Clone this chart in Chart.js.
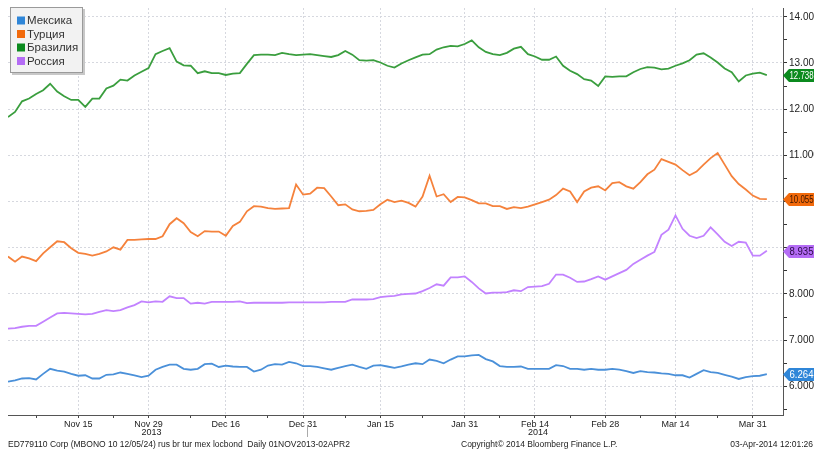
<!DOCTYPE html>
<html>
<head>
<meta charset="utf-8">
<script src="https://cdn.jsdelivr.net/npm/chart.js@4.4.1/dist/chart.umd.min.js"></script>
<style>
  html, body { margin: 0; padding: 0; background: #fff; }
  #wrap { width: 814px; height: 451px; }
</style>
</head>
<body>
<div id="wrap"><canvas id="bondChart" width="814" height="451"></canvas></div>
<script>
// ===== Data (one value per business day, 01 Nov 2013 - 02 Apr 2014) =====
const seriesNames = ['Мексика', 'Турция', 'Бразилия', 'Россия'];

const mexico = [6.10,6.13,6.17,6.18,6.15,6.27,6.38,6.34,6.32,6.27,
  6.23,6.24,6.17,6.17,6.25,6.26,6.30,6.27,6.24,6.20,
  6.23,6.36,6.42,6.47,6.47,6.38,6.36,6.38,6.48,6.49,
  6.42,6.45,6.43,6.42,6.42,6.32,6.36,6.45,6.48,6.47,
  6.53,6.50,6.44,6.44,6.42,6.39,6.36,6.40,6.44,6.47,
  6.42,6.38,6.45,6.46,6.43,6.40,6.43,6.47,6.50,6.48,
  6.58,6.55,6.50,6.58,6.65,6.65,6.67,6.68,6.59,6.54,
  6.44,6.42,6.42,6.43,6.38,6.38,6.38,6.38,6.46,6.44,
  6.38,6.38,6.36,6.38,6.36,6.36,6.38,6.36,6.33,6.29,
  6.33,6.31,6.30,6.28,6.27,6.24,6.24,6.19,6.27,6.35,
  6.31,6.29,6.25,6.21,6.16,6.20,6.22,6.23,6.264];

const turkey = [8.81,8.70,8.81,8.77,8.71,8.88,9.01,9.14,9.12,8.99,
  8.89,8.87,8.83,8.87,8.92,9.01,8.96,9.17,9.17,9.18,
  9.19,9.19,9.25,9.51,9.64,9.53,9.34,9.25,9.36,9.35,
  9.35,9.26,9.47,9.56,9.79,9.90,9.89,9.86,9.84,9.85,
  9.86,10.37,10.15,10.17,10.30,10.29,10.11,9.92,9.94,9.83,
  9.79,9.80,9.82,9.94,10.04,9.99,10.02,9.97,9.89,10.11,
  10.56,10.11,10.16,9.99,10.10,10.09,10.03,9.96,9.96,9.90,
  9.90,9.84,9.88,9.86,9.89,9.94,9.99,10.04,10.14,10.28,
  10.22,9.99,10.22,10.30,10.33,10.24,10.40,10.42,10.33,10.28,
  10.42,10.59,10.69,10.92,10.86,10.80,10.68,10.57,10.65,10.80,
  10.94,11.05,10.80,10.55,10.38,10.26,10.13,10.06,10.055];

const brazil = [11.83,11.94,12.17,12.23,12.33,12.41,12.55,12.38,12.28,12.20,
  12.20,12.05,12.23,12.23,12.45,12.51,12.64,12.62,12.73,12.81,
  12.89,13.19,13.26,13.32,13.03,12.95,12.94,12.78,12.82,12.78,
  12.78,12.74,12.77,12.78,12.98,13.17,13.18,13.18,13.17,13.22,
  13.19,13.17,13.18,13.19,13.17,13.15,13.13,13.17,13.26,13.18,
  13.06,13.05,13.06,13.01,12.94,12.90,12.99,13.06,13.12,13.18,
  13.19,13.29,13.34,13.37,13.36,13.41,13.49,13.34,13.24,13.19,
  13.17,13.22,13.31,13.35,13.19,13.14,13.07,13.07,13.14,12.94,
  12.83,12.76,12.65,12.62,12.50,12.71,12.70,12.71,12.71,12.80,
  12.87,12.91,12.90,12.86,12.88,12.94,12.99,13.06,13.18,13.21,
  13.12,13.01,12.88,12.80,12.60,12.73,12.77,12.79,12.738];

const russia = [7.25,7.26,7.29,7.31,7.31,7.40,7.49,7.58,7.59,7.58,
  7.57,7.56,7.57,7.61,7.65,7.63,7.65,7.71,7.76,7.84,
  7.82,7.84,7.83,7.95,7.91,7.91,7.79,7.81,7.79,7.83,
  7.83,7.83,7.83,7.84,7.80,7.81,7.81,7.81,7.81,7.81,
  7.82,7.82,7.82,7.82,7.82,7.82,7.83,7.83,7.83,7.88,
  7.88,7.88,7.89,7.93,7.95,7.96,7.99,8.00,8.01,8.06,
  8.13,8.21,8.18,8.36,8.36,8.38,8.26,8.12,8.01,8.03,
  8.03,8.04,8.08,8.06,8.15,8.16,8.17,8.22,8.42,8.42,
  8.35,8.26,8.27,8.32,8.38,8.31,8.38,8.45,8.52,8.65,
  8.74,8.83,8.91,9.28,9.39,9.70,9.41,9.26,9.21,9.26,
  9.44,9.29,9.13,9.04,9.13,9.11,8.83,8.83,8.935];

// business-day index of each date label on the x axis
const xTickIndex = [10, 20, 31, 42, 53, 65, 75, 85, 95, 106];
const xTickLabels = ['Nov 15', 'Nov 29', 'Dec 16', 'Dec 31', 'Jan 15', 'Jan 31', 'Feb 14', 'Feb 28', 'Mar 14', 'Mar 31'];
const xMinorIndex = [4, 15, 26, 37, 48, 59, 70, 80, 90, 101];
const yearIndex = [20, 75];
const yearLabels = ['2013', '2014'];
const yTicks = [5.5, 6, 6.5, 7, 7.5, 8, 8.5, 9, 9.5, 10, 10.5, 11, 11.5, 12, 12.5, 13, 13.5, 14];

// ===== Styles =====
const lineColors = ['#4a90d9', '#f5823c', '#3a9e3e', '#c282ff'];
const tagColors  = ['#2f86d8', '#f26a0c', '#0b8a1e', '#b46cf5'];
const tagText    = ['#ffffff', '#3b1600', '#ffffff', '#2b0a45'];
const FONT = '"Liberation Sans", Arial, sans-serif';
const GRID = '#d6d8df';

const allSeries = [mexico, turkey, brazil, russia];
const lastValues = allSeries.map(s => s[s.length - 1]);

const bloombergExtras = {
    id: 'bloombergExtras',
    afterDraw(chart) {
        const ctx = chart.ctx;
        const xs = chart.scales.x, ys = chart.scales.y;
        const area = chart.chartArea;
        ctx.save();

        // value tags on the right axis
        lastValues.forEach((v, i) => {
            const y = Math.round(ys.getPixelForValue(v)) + 0.5;
            const x0 = area.right;
            ctx.beginPath();
            ctx.moveTo(x0, y);
            ctx.lineTo(x0 + 6, y - 6.5);
            ctx.lineTo(814, y - 6.5);
            ctx.lineTo(814, y + 6.5);
            ctx.lineTo(x0 + 6, y + 6.5);
            ctx.closePath();
            ctx.fillStyle = tagColors[i];
            ctx.fill();
            // squeeze the number so it fits the tag like the terminal does
            ctx.font = '10px ' + FONT;
            const txt = v.toFixed(3);
            const w = ctx.measureText(txt).width;
            const k = Math.min(1, 24 / w);
            ctx.save();
            ctx.translate(x0 + 6.5, y + 0.5);
            ctx.scale(k, 1);
            ctx.fillStyle = tagText[i];
            ctx.textBaseline = 'middle';
            ctx.textAlign = 'left';
            ctx.fillText(txt, 0, 0);
            ctx.restore();
        });

        // legend box
        ctx.fillStyle = '#c8c8c8';
        ctx.fillRect(12, 9, 73, 66);
        ctx.fillStyle = '#f2f2f2';
        ctx.fillRect(10, 7, 73, 66);
        ctx.strokeStyle = '#9a9a9a';
        ctx.lineWidth = 1;
        ctx.strokeRect(10.5, 7.5, 72, 65);
        ctx.font = '11.5px ' + FONT;
        ctx.textBaseline = 'middle';
        seriesNames.forEach((name, i) => {
            const cy = 20.5 + i * 13.5;
            ctx.fillStyle = tagColors[i];
            ctx.fillRect(17, cy - 4, 8, 8);
            ctx.fillStyle = '#333';
            ctx.fillText(name, 27, cy + 0.5);
        });

        // year labels + year separator
        ctx.fillStyle = '#222';
        ctx.font = '9px ' + FONT;
        ctx.textAlign = 'center';
        yearIndex.forEach((idx, i) => {
            ctx.fillText(yearLabels[i], xs.getPixelForValue(idx) + 3, 433);
        });
        const sep = Math.round(xs.getPixelForValue(42.5)) + 0.5;
        ctx.strokeStyle = '#aaa';
        ctx.beginPath();
        ctx.moveTo(sep, 425);
        ctx.lineTo(sep, 437);
        ctx.stroke();

        // footer
        ctx.textAlign = 'left';
        ctx.font = '8.5px ' + FONT;
        ctx.fillText('ED779110 Corp (MBONO 10 12/05/24) rus br tur mex locbond  Daily 01NOV2013-02APR2', 8, 445);
        ctx.fillText('Copyright\u00a9 2014 Bloomberg Finance L.P.', 461, 445);
        ctx.textAlign = 'right';
        ctx.fillText('03-Apr-2014 12:01:26', 813, 445);
        ctx.restore();
    }
};

new Chart(document.getElementById('bondChart'), {
    type: 'line',
    data: {
        datasets: allSeries.map((s, i) => ({
            label: seriesNames[i],
            data: s.map((v, k) => ({ x: k, y: v })),
            borderColor: lineColors[i],
            borderWidth: 1.8,
            pointRadius: 0,
            tension: 0,
            fill: false
        }))
    },
    options: {
        responsive: false,
        animation: false,
        devicePixelRatio: 1,
        layout: { padding: { left: 8, top: 5, right: 0, bottom: 0 } },
        plugins: { legend: { display: false }, tooltip: { enabled: false } },
        scales: {
            x: {
                type: 'linear',
                min: 0,
                max: 110.3,
                afterBuildTicks: s => {
                    s.ticks = xTickIndex.concat(xMinorIndex).sort((a, b) => a - b).map(v => ({ value: v }));
                },
                afterFit: s => { s.height = 36; },
                grid: {
                    color: c => (c.tick && xTickIndex.includes(c.tick.value)) ? GRID : 'rgba(0,0,0,0)',
                    tickColor: '#444',
                    tickLength: 3
                },
                border: { color: '#555', width: 1, dash: [2, 2] },
                ticks: {
                    autoSkip: false,
                    maxRotation: 0,
                    padding: 1,
                    color: '#222',
                    font: { family: FONT, size: 9 },
                    callback: v => {
                        const k = xTickIndex.indexOf(v);
                        return k >= 0 ? xTickLabels[k] : '';
                    }
                }
            },
            y: {
                position: 'right',
                min: 5.38,
                max: 14.19,
                afterBuildTicks: s => { s.ticks = yTicks.map(v => ({ value: v })); },
                afterFit: s => { s.width = 31; },
                grid: {
                    color: c => (c.tick && Number.isInteger(c.tick.value)) ? GRID : 'rgba(0,0,0,0)',
                    tickColor: '#333',
                    tickLength: 4
                },
                border: { color: '#555', width: 1, dash: [2, 2] },
                ticks: {
                    padding: 2,
                    color: '#222',
                    font: { family: FONT, size: 10 },
                    // labels under a value tag are hidden, as on the terminal
                    callback: v => (Number.isInteger(v) && !lastValues.some(t => Math.abs(t - v) < 0.2)) ? v.toFixed(3) : ''
                }
            }
        }
    },
    plugins: [bloombergExtras]
});
</script>
</body>
</html>
